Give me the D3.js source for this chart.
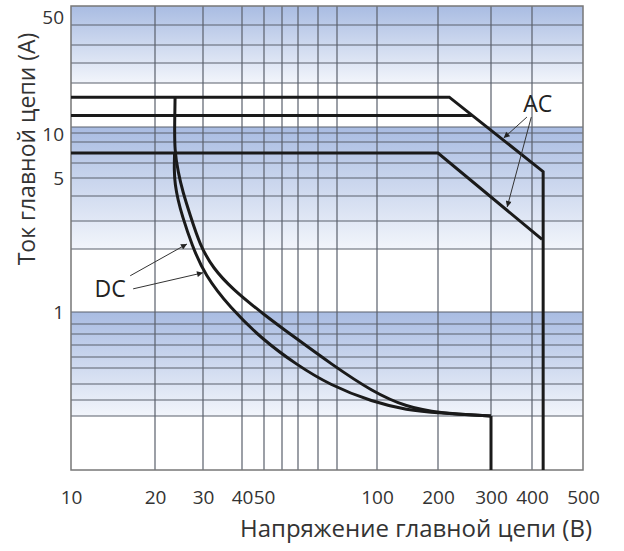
<!DOCTYPE html>
<html>
<head>
<meta charset="utf-8">
<script src="https://cdnjs.cloudflare.com/ajax/libs/d3/7.8.5/d3.min.js"></script>
<style>
  body { margin: 0; background: #fff; }
  text { font-family: "Open Sans", sans-serif; }
</style>
</head>
<body>
<svg class="canvas" width="624" height="551"></svg>
<script>
// grid and labels (volts / amps)
const voltGrid = [10, 20, 30, 40, 50, 60, 70, 80, 90, 100, 200, 300, 400, 500];
const voltLabels = [10, 20, 30, 40, 50, 100, 200, 300, 400, 500];
const ampGrid = [0.1, 0.2, 0.3, 0.4, 0.5, 0.6, 0.7, 0.8, 0.9, 1, 2, 3, 4, 5, 6, 7, 8, 9, 10, 20, 30, 40, 50, 60];
const ampLabels = [1, 5, 10, 50];
const bands = [[0.2, 1], [2, 10], [20, 60]];

// AC limits
const acHigh = [[10, 16], [218, 16], [420, 5.4], [420, 0.1]];
const acMid = [[10, 12], [259, 12]];
const acLow = [[10, 7], [200, 7], [418, 2.3]];

// DC limits
const dcOuter = [[23.7, 16], [23.6, 10.3], [23.6, 7.26], [24.3, 5.38], [25.3, 4.2], [26.9, 3.22], [29.2, 2.12],
  [32.3, 1.62], [37.2, 1.29], [49.5, 0.983], [69.3, 0.753], [86.1, 0.543], [98.9, 0.346], [140.6, 0.251],
  [199, 0.216], [300, 0.2]];
const dcInner = [[23.6, 7], [23.5, 5.51], [23.7, 4.58], [24.3, 3.82], [25.1, 3.22], [27.3, 2.12], [30.4, 1.5],
  [36.6, 1.05], [49.5, 0.744], [69.3, 0.526], [86.1, 0.393], [98.9, 0.285], [140.6, 0.233], [199, 0.216], [300, 0.2]];
const dcStop = [[300, 0.2], [300, 0.1]];

// callouts: label position and arrows [tail, tip]
const acNote = { text: "AC", at: [410, 14.6], arrows: [[[386, 11.7], [328, 8.43]], [[398, 11.7], [336, 3.52]]] };
const dcNote = { text: "DC", at: [13.8, 1.3], arrows: [[[16.3, 1.49], [26.2, 2.15]], [[16.7, 1.29], [30, 1.54]]] };

// the printed grid is not evenly spaced, so the scales are pinned at every grid line
const xPins = [71, 155, 203, 242, 264, 282, 298, 318, 337, 377, 438, 491, 532, 583];
const yPins = [470, 416, 400, 384, 368, 357, 345, 334, 324, 312, 249, 221, 196, 178, 163, 153, 142, 133, 127, 83, 63, 45, 25, 6];
const labelNudge = { 50: -8, 10: 7 };

const svg = d3.select(".canvas");
const x = d3.scaleLog().domain(voltGrid).range(xPins);
const y = d3.scaleLog().domain(ampGrid).range(yPins);

const defs = svg.append("defs");
const grad = defs.append("linearGradient").attr("id", "band").attr("x1", 0).attr("y1", 0).attr("x2", 0).attr("y2", 1);
grad.append("stop").attr("offset", "0%").attr("stop-color", "#a9bce2");
grad.append("stop").attr("offset", "100%").attr("stop-color", "#f2f5fb");

defs.append("marker")
  .attr("id", "head")
  .attr("viewBox", "0 0 10 10")
  .attr("refX", 10).attr("refY", 5)
  .attr("markerWidth", 8).attr("markerHeight", 6)
  .attr("markerUnits", "userSpaceOnUse")
  .attr("orient", "auto")
  .append("path").attr("d", "M0,0L10,5L0,10z").attr("fill", "#222");

const x0 = x(voltGrid[0]), x1 = x(voltGrid[voltGrid.length - 1]);
const yTop = y(ampGrid[ampGrid.length - 1]), yBot = y(ampGrid[0]);

svg.append("g").selectAll("rect").data(bands).join("rect")
  .attr("x", x0).attr("width", x1 - x0)
  .attr("y", (d) => y(d[1]))
  .attr("height", (d) => y(d[0]) - y(d[1]))
  .attr("fill", "url(#band)");

const grid = svg.append("g").attr("stroke", "#5a606c").attr("stroke-width", 1.2);
grid.selectAll(".gx").data(voltGrid.slice(1, -1)).join("line")
  .attr("x1", (d) => x(d)).attr("x2", (d) => x(d))
  .attr("y1", yTop).attr("y2", yBot);
grid.selectAll(".gy").data(ampGrid.slice(1, -1)).join("line")
  .attr("y1", (d) => y(d)).attr("y2", (d) => y(d))
  .attr("x1", x0).attr("x2", x1);

svg.append("rect")
  .attr("x", x0).attr("y", yTop)
  .attr("width", x1 - x0).attr("height", yBot - yTop)
  .attr("fill", "none").attr("stroke", "#777").attr("stroke-width", 1.5);

const straight = d3.line().x((d) => x(d[0])).y((d) => y(d[1]));
const smooth = d3.line().x((d) => x(d[0])).y((d) => y(d[1])).curve(d3.curveBasis);

const curves = svg.append("g").attr("fill", "none").attr("stroke", "#1a1a1a").attr("stroke-width", 3)
  .attr("stroke-linejoin", "miter");
[acHigh, acMid, acLow, dcStop].forEach((d) => curves.append("path").attr("d", straight(d)));
[dcOuter, dcInner].forEach((d) => curves.append("path").attr("d", smooth(d)));

// axes
const xAxis = d3.axisBottom(x).tickValues(voltLabels).tickSize(0).tickPadding(21).tickFormat(d3.format("d"));
const yAxis = d3.axisLeft(y).tickValues(ampLabels).tickSize(0).tickPadding(7).tickFormat(d3.format("d"));

svg.append("g").attr("transform", `translate(0,${yBot})`).call(xAxis)
  .call((g) => g.select(".domain").remove())
  .attr("font-size", 19).attr("font-family", "Open Sans").attr("color", "#333");
svg.append("g").attr("transform", `translate(${x0},0)`).call(yAxis)
  .call((g) => g.select(".domain").remove())
  .call((g) => g.selectAll("text").attr("y", (d) => labelNudge[d] || 0))
  .attr("font-size", 19).attr("font-family", "Open Sans").attr("color", "#333");

svg.append("text")
  .attr("x", 416).attr("y", 537)
  .attr("text-anchor", "middle").attr("font-size", 24).attr("fill", "#333")
  .text("Напряжение главной цепи (В)");
svg.append("text")
  .attr("transform", "translate(35,149) rotate(-90)")
  .attr("text-anchor", "middle").attr("font-size", 23).attr("fill", "#333")
  .text("Ток главной цепи (А)");

// callouts
[acNote, dcNote].forEach((n) => {
  svg.append("text")
    .attr("x", x(n.at[0])).attr("y", y(n.at[1]))
    .attr("text-anchor", "middle").attr("dominant-baseline", "central")
    .attr("font-size", 23).attr("fill", "#222")
    .text(n.text);
  n.arrows.forEach((a) => {
    svg.append("line")
      .attr("x1", x(a[0][0])).attr("y1", y(a[0][1]))
      .attr("x2", x(a[1][0])).attr("y2", y(a[1][1]))
      .attr("stroke", "#333").attr("stroke-width", 1)
      .attr("marker-end", "url(#head)");
  });
});
</script>
</body>
</html>
